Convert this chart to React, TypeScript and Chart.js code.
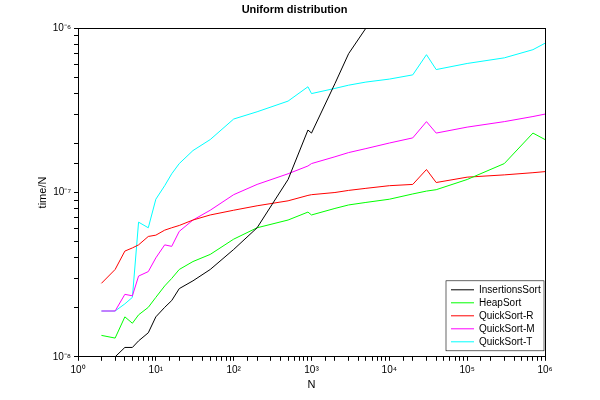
import { useEffect, useRef } from 'react';
import Chart from 'chart.js/auto';

const sizes = [2, 3, 4, 5, 6, 8, 10, 13, 16, 20, 30, 50, 100, 200, 500, 900, 1000, 2000, 3000, 5000, 10000, 20000, 30000, 40000, 100000, 300000, 700000, 1000000];

const insertionSort = [null, 1.0e-8, 1.14e-8, 1.14e-8, 1.25e-8, 1.4e-8, 1.75e-8, 2.0e-8, 2.2e-8, 2.6e-8, 2.9e-8, 3.4e-8, 4.5e-8, 6.1e-8, 1.2e-7, 2.4e-7, 2.3e-7, 4.6e-7, 7.0e-7, 1.0e-6, 1.6e-6, null, null, null, null, null, null, null];
const heapSort = [1.35e-8, 1.3e-8, 1.75e-8, 1.6e-8, 1.8e-8, 2.0e-8, 2.3e-8, 2.7e-8, 3.0e-8, 3.4e-8, 3.8e-8, 4.2e-8, 5.2e-8, 6.1e-8, 6.8e-8, 7.6e-8, 7.3e-8, 8.0e-8, 8.4e-8, 8.7e-8, 9.1e-8, 9.8e-8, 1.02e-7, 1.04e-7, 1.2e-7, 1.5e-7, 2.3e-7, 2.1e-7];
const quickSortR = [2.8e-8, 3.4e-8, 4.4e-8, 4.6e-8, 4.8e-8, 5.4e-8, 5.5e-8, 5.9e-8, 6.1e-8, 6.3e-8, 6.8e-8, 7.3e-8, 7.8e-8, 8.3e-8, 8.9e-8, 9.6e-8, 9.7e-8, 1.0e-7, 1.03e-7, 1.06e-7, 1.1e-7, 1.12e-7, 1.38e-7, 1.15e-7, 1.24e-7, 1.28e-7, 1.32e-7, 1.34e-7];
const quickSortM = [1.9e-8, 1.9e-8, 2.4e-8, 2.35e-8, 3.1e-8, 3.3e-8, 4.0e-8, 4.8e-8, 4.7e-8, 5.8e-8, 6.8e-8, 7.8e-8, 9.7e-8, 1.12e-7, 1.3e-7, 1.45e-7, 1.5e-7, 1.65e-7, 1.75e-7, 1.85e-7, 2.0e-7, 2.15e-7, 2.7e-7, 2.3e-7, 2.5e-7, 2.7e-7, 2.9e-7, 3.0e-7];
const quickSortT = [1.9e-8, 1.9e-8, 2.1e-8, 2.3e-8, 6.6e-8, 6.1e-8, 9.1e-8, 1.1e-7, 1.3e-7, 1.5e-7, 1.8e-7, 2.1e-7, 2.8e-7, 3.1e-7, 3.6e-7, 4.4e-7, 4.0e-7, 4.3e-7, 4.5e-7, 4.7e-7, 4.9e-7, 5.2e-7, 6.9e-7, 5.6e-7, 6.1e-7, 6.6e-7, 7.4e-7, 8.1e-7];

const seriesNames = ['InsertionsSort', 'HeapSort', 'QuickSort-R', 'QuickSort-M', 'QuickSort-T'];
const seriesColors = ['#000000', '#00ff00', '#ff0000', '#ff00ff', '#00ffff'];
const seriesValues = [insertionSort, heapSort, quickSortR, quickSortM, quickSortT];

const sup: Record<string, string> = { '-': '⁻', '0': '⁰', '1': '¹', '2': '²', '3': '³', '4': '⁴', '5': '⁵', '6': '⁶', '7': '⁷', '8': '⁸', '9': '⁹' };
const powLabel = (v: number) => {
  const e = Math.log10(v);
  if (Math.abs(e - Math.round(e)) > 1e-6) return '';
  return '10' + String(Math.round(e)).split('').map(c => sup[c]).join('');
};

const legendBox = {
  id: 'legendBox',
  afterDraw(chart: any) {
    const ctx = chart.ctx;
    const a = chart.chartArea;
    const w = 98, h = 70;
    const x = a.right - w - 1, y = a.bottom - h - 6;
    ctx.save();
    ctx.fillStyle = '#fff';
    ctx.strokeStyle = '#000';
    ctx.lineWidth = 0.6;
    ctx.fillRect(x, y, w, h);
    ctx.strokeRect(x, y, w, h);
    ctx.font = '10px "Liberation Sans", Arial, sans-serif';
    ctx.textBaseline = 'middle';
    seriesNames.forEach((name, i) => {
      const ly = y + 9 + i * 13;
      ctx.strokeStyle = seriesColors[i];
      ctx.lineWidth = 1;
      ctx.beginPath();
      ctx.moveTo(x + 5, ly);
      ctx.lineTo(x + 28, ly);
      ctx.stroke();
      ctx.fillStyle = '#000';
      ctx.fillText(name, x + 33, ly);
    });
    ctx.restore();
  },
};

export default function App() {
  const chartRef = useRef<HTMLCanvasElement | null>(null);

  useEffect(() => {
    document.body.style.margin = '0';
    if (!chartRef.current) return;
    const font = { family: '"Liberation Sans", Arial, sans-serif', size: 10 };
    const chart = new Chart(chartRef.current, {
      type: 'line',
      data: {
        datasets: seriesNames.map((name, i) => ({
          label: name,
          data: sizes.map((n, j) => ({ x: n, y: seriesValues[i][j] as any })),
          borderColor: seriesColors[i],
          borderWidth: 1,
          pointRadius: 0,
          spanGaps: false,
        })),
      },
      options: {
        animation: false,
        responsive: false,
        layout: { padding: { left: 36, right: 47, top: 0, bottom: 8 } },
        plugins: {
          legend: { display: false },
          tooltip: { enabled: false },
          title: { display: true, text: 'Uniform distribution', color: '#000', font: { ...font, size: 11, weight: 'bold' }, padding: { top: 3, bottom: 4 } },
        },
        scales: {
          x: {
            type: 'logarithmic',
            min: 1,
            max: 1e6,
            border: { color: '#000' },
            grid: { drawOnChartArea: false, color: '#000', tickLength: 4 },
            ticks: { color: '#000', font, autoSkip: false, maxRotation: 0, callback: (v: any) => powLabel(Number(v)) },
            title: { display: true, text: 'N', color: '#000', font: { ...font, size: 11 }, padding: 0 },
          },
          y: {
            type: 'logarithmic',
            min: 1e-8,
            max: 1e-6,
            afterFit: (s: any) => { s.width = 42; },
            border: { color: '#000' },
            grid: { drawOnChartArea: false, color: '#000', tickLength: 4 },
            ticks: { color: '#000', font, autoSkip: false, callback: (v: any) => powLabel(Number(v)) },
            title: { display: true, text: 'time/N', color: '#000', font: { ...font, size: 11 }, padding: 0 },
          },
          x2: { position: 'top', type: 'logarithmic', min: 1, max: 1e6, border: { color: '#000' }, grid: { display: false }, ticks: { display: false } },
          y2: { position: 'right', type: 'logarithmic', min: 1e-8, max: 1e-6, border: { color: '#000' }, grid: { display: false }, ticks: { display: false } },
        },
      },
      plugins: [legendBox],
    });
    return () => chart.destroy();
  }, []);

  return <canvas ref={chartRef} width={600} height={400} />;
}
